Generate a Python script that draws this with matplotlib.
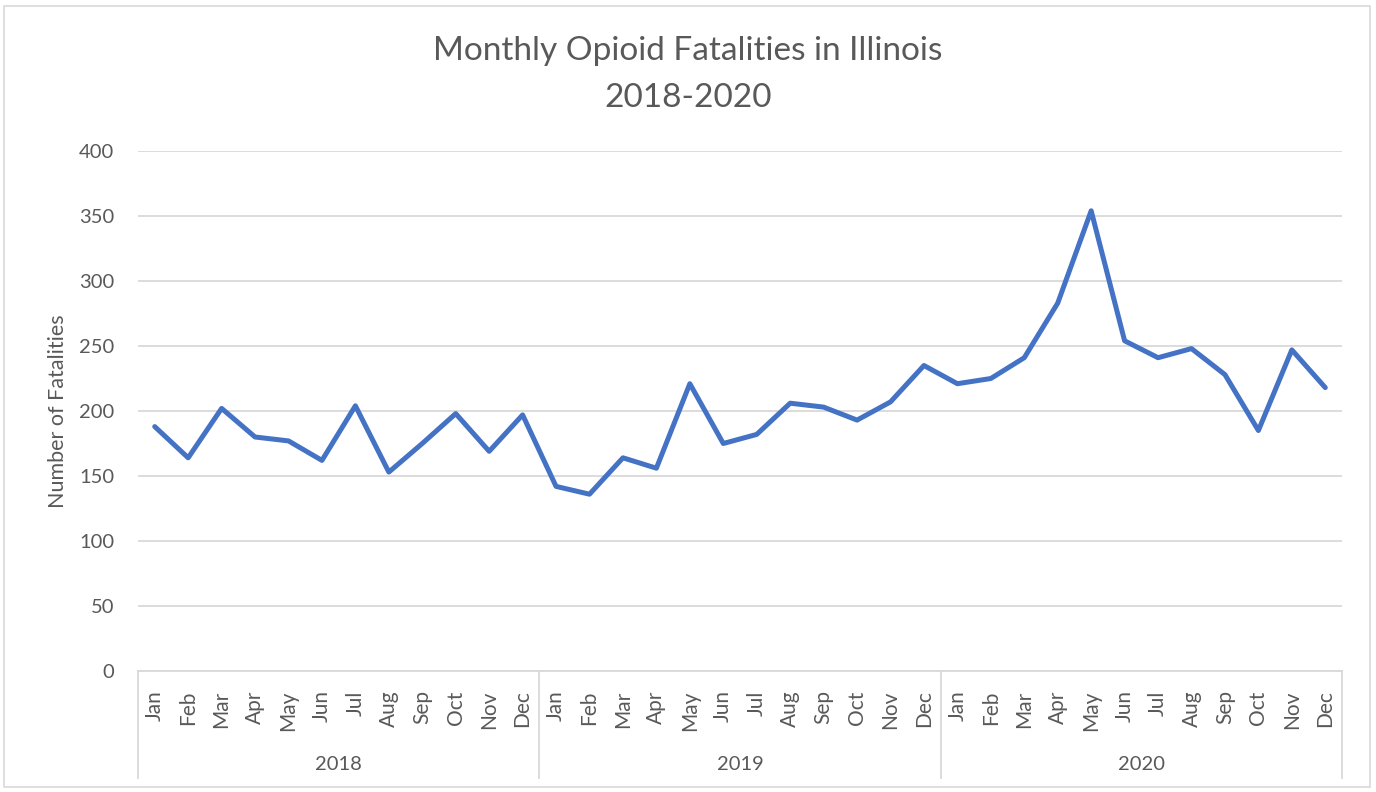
import matplotlib
matplotlib.use("Agg")
import matplotlib.pyplot as plt
from matplotlib.patches import Rectangle
from matplotlib.lines import Line2D
import numpy as np

# monthly opioid fatalities
years = ["2018", "2019", "2020"]
months = ["Jan", "Feb", "Mar", "Apr", "May", "Jun",
          "Jul", "Aug", "Sep", "Oct", "Nov", "Dec"]
deaths_2018 = [188, 164, 202, 180, 177, 162, 204, 153, 175, 198, 169, 197]
deaths_2019 = [142, 136, 164, 156, 221, 175, 182, 206, 203, 193, 207, 235]
deaths_2020 = [221, 225, 241, 283, 354, 254, 241, 248, 228, 185, 247, 218]
y_ticks = [0, 50, 100, 150, 200, 250, 300, 350, 400]

plt.rcParams['font.family'] = ['Lato', 'DejaVu Sans']
txt = '#595959'
grid = '#d9d9d9'
blue = '#4472C4'

W, H = 1376, 792
fig = plt.figure(figsize=(W / 100, H / 100), dpi=100)

# outer chart border
fig.patches.append(Rectangle((4 / W, 5 / H), (W - 10) / W, (H - 11) / H,
                             transform=fig.transFigure, fill=False,
                             edgecolor=grid, linewidth=1.2))

left, right, top, bottom = 138, 1342, 151, 671
ax = fig.add_axes([left / W, 1 - bottom / H, (right - left) / W, (bottom - top) / H])

values = deaths_2018 + deaths_2019 + deaths_2020
x = np.arange(len(values))
ax.plot(x, values, color=blue, linewidth=3.6, solid_joinstyle='round',
        solid_capstyle='round', zorder=3)

ax.set_xlim(-0.5, len(values) - 0.5)
ax.set_ylim(0, 400)
ax.set_yticks(y_ticks)
ax.set_yticklabels([str(v) for v in y_ticks])
ax.yaxis.grid(True, color=grid, linewidth=1.3)
ax.set_axisbelow(True)
ax.tick_params(axis='y', length=0, pad=17, labelsize=14.5, labelcolor=txt)
for s in ['top', 'right', 'left']:
    ax.spines[s].set_visible(False)
ax.spines['bottom'].set_color(grid)
ax.spines['bottom'].set_linewidth(1.3)

# multi-level category axis: months, then years
ax.set_xticks(x)
ax.set_xticklabels(months * len(years), rotation=90, va='top', ha='center')
ax.tick_params(axis='x', length=0, pad=14, labelsize=15, labelcolor=txt)

trans = ax.get_xaxis_transform()
line_bottom = -(778 - bottom) / (bottom - top)
for k in range(len(years) + 1):
    xv = k * 12 - 0.5
    ax.add_line(Line2D([xv, xv], [0, line_bottom], transform=trans,
                       color=grid, linewidth=1.3, clip_on=False))
for k, yr in enumerate(years):
    ax.text(k * 12 + 5.5, -(765 - bottom) / (bottom - top), yr,
            transform=trans, ha='center', va='center', fontsize=14.5, color=txt)

ax.set_ylabel("Number of Fatalities", fontsize=15.5, color=txt, labelpad=8)

fig.text(0.5, 1 - 51 / H, "Monthly Opioid Fatalities in Illinois",
         ha='center', va='center', fontsize=24, color=txt)
fig.text(0.5, 1 - 98 / H, "2018-2020",
         ha='center', va='center', fontsize=24, color=txt)

fig.savefig("out.png", dpi=100, facecolor='white')
